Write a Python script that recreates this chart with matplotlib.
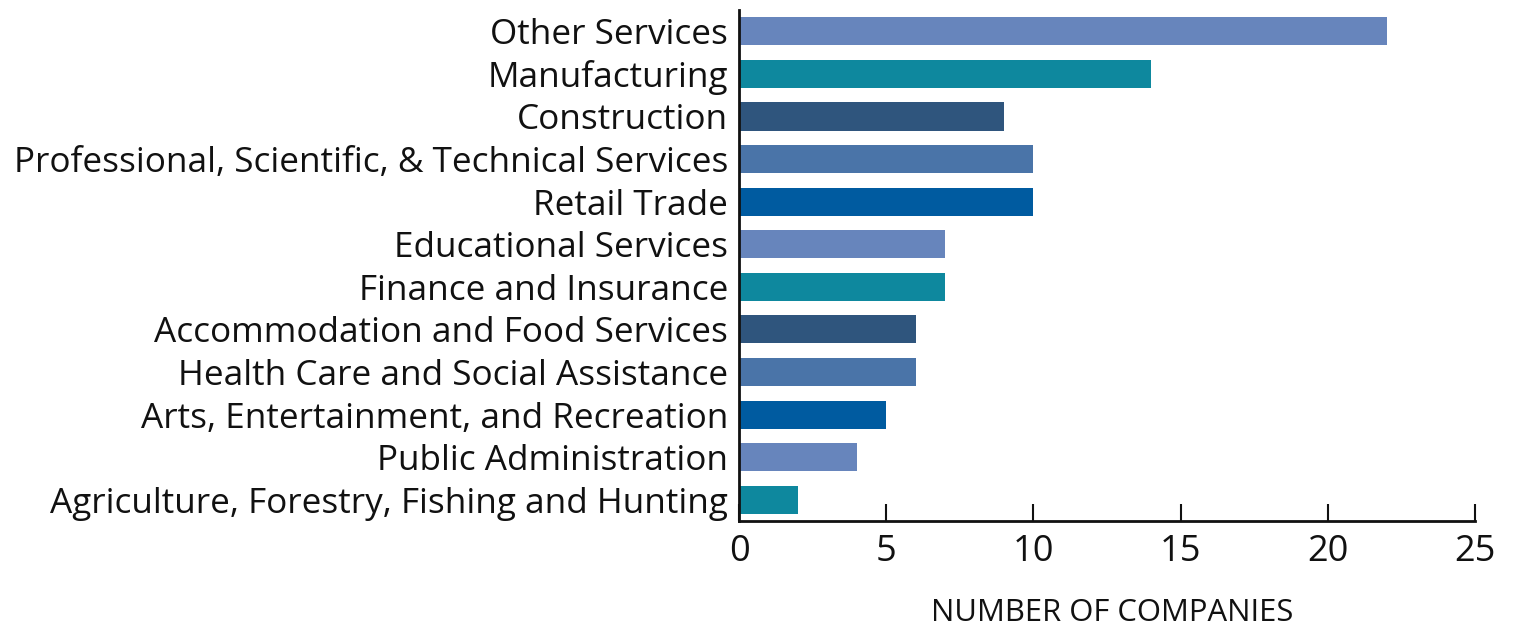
import matplotlib
matplotlib.use("Agg")
import matplotlib.pyplot as plt

industries = [
    "Other Services",
    "Manufacturing",
    "Construction",
    "Professional, Scientific, & Technical Services",
    "Retail Trade",
    "Educational Services",
    "Finance and Insurance",
    "Accommodation and Food Services",
    "Health Care and Social Assistance",
    "Arts, Entertainment, and Recreation",
    "Public Administration",
    "Agriculture, Forestry, Fishing and Hunting",
]
companies = [22, 14, 9, 10, 10, 7, 7, 6, 6, 5, 4, 2]
palette = ["#6785BC", "#0E889E", "#2F557D", "#4A74A8", "#005BA0"]
x_ticks = [0, 5, 10, 15, 20, 25]

plt.rcParams["font.family"] = ["Open Sans", "DejaVu Sans"]

fig = plt.figure(figsize=(15.15, 6.26), dpi=100)
ax = fig.add_axes([0.4878, 0.1677, 0.4858, 0.8163])

colors = [palette[i % len(palette)] for i in range(len(industries))]
ypos = list(range(len(industries)))
ax.barh(ypos, companies, height=0.66, color=colors, zorder=2)

ax.set_ylim(len(industries) - 0.5, -0.5)
ax.set_xlim(0, 25)
ax.set_yticks(ypos)
ax.set_yticklabels(industries, fontsize=25.3, color="#111111")
ax.set_xticks(x_ticks)
ax.set_xticklabels([str(t) for t in x_ticks], fontsize=26, color="#111111")

ax.tick_params(axis="y", length=0, pad=8)
ax.tick_params(axis="x", direction="in", length=12, width=1.5, pad=9, color="#111111")

for side in ("top", "right"):
    ax.spines[side].set_visible(False)
for side in ("left", "bottom"):
    ax.spines[side].set_linewidth(2)
    ax.spines[side].set_color("#111111")

ax.set_xlabel("NUMBER OF COMPANIES", fontsize=22.3, color="#111111")
ax.xaxis.set_label_coords(0.507, -0.150)

fig.savefig("out.png", dpi=100)
